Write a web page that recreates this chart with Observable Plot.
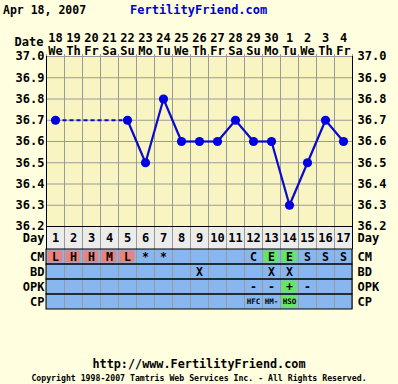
<!DOCTYPE html>
<html>
<head>
<meta charset="utf-8">
<script src="https://cdn.jsdelivr.net/npm/d3@7"></script>
<script src="https://cdn.jsdelivr.net/npm/@observablehq/plot@0.6"></script>
<style>
  html, body { margin: 0; padding: 0; background: #FFFFE0; }
  body { width: 398px; height: 384px; overflow: hidden; font-family: "DejaVu Sans Mono", monospace; font-weight: bold; }
  #title { position: relative; height: 20px; font-size: 11.5px; }
  #title .date { position: absolute; left: 3px; top: 3px; color: #000; }
  #title .site { position: absolute; left: 130px; top: 3px; color: #0000CC; font-size: 12px; }
  svg { display: block; }
  #footer { text-align: center; color: #000; }
  #footer .url { margin-top: 48px; font-size: 11.8px; line-height: 13px; }
  #footer .copy { font-size: 8.2px; line-height: 10px; margin-top: 2px; }
</style>
</head>
<body>
<div id="title"><span class="date">Apr 18, 2007</span><span class="site">FertilityFriend.com</span></div>
<div id="chart"></div>
<div id="footer"><div class="url">http://www.FertilityFriend.com</div><div class="copy">Copyright 1998-2007 Tamtris Web Services Inc. - All Rights Reserved.</div></div>
<script>
// ---- data ----
const days = [1, 2, 3, 4, 5, 6, 7, 8, 9, 10, 11, 12, 13, 14, 15, 16, 17];
const dates = ["18", "19", "20", "21", "22", "23", "24", "25", "26", "27", "28", "29", "30", "1", "2", "3", "4"];
const weekdays = ["We", "Th", "Fr", "Sa", "Su", "Mo", "Tu", "We", "Th", "Fr", "Sa", "Su", "Mo", "Tu", "We", "Th", "Fr"];
const temps = [36.7, null, null, null, 36.7, 36.5, 36.8, 36.6, 36.6, 36.6, 36.7, 36.6, 36.6, 36.3, 36.5, 36.7, 36.6];
const tempTicks = [36.2, 36.3, 36.4, 36.5, 36.6, 36.7, 36.8, 36.9, 37.0];
const rows = ["CM", "BD", "OPK", "CP"];
const cm  = ["L", "H", "H", "M", "L", "*", "*", "", "", "", "", "C", "E", "E", "S", "S", "S"];
const bd  = ["", "", "", "", "", "", "", "", "X", "", "", "", "X", "X", "", "", ""];
const opk = ["", "", "", "", "", "", "", "", "", "", "", "-", "-", "+", "-", "", ""];
const cp  = ["", "", "", "", "", "", "", "", "", "", "", "HFC", "HM-", "HSO", "", "", ""];

(function () {
// ---- derived ----
const W = 398, ML = 46, MR = 46;
const xDomain = [days[0] - 0.5, days[days.length - 1] + 0.5];
const bounds = [...days.map(d => d - 0.5), days[days.length - 1] + 0.5];
const pts = days.map((d, i) => ({day: d, t: temps[i]})).filter(p => p.t != null);
const segs = pts.slice(1).map((p, i) => ({a: pts[i], b: p, gap: p.day - pts[i].day > 1}));
const font = {fontFamily: "DejaVu Sans Mono", fontSize: "12px", fontWeight: "bold", background: "transparent", overflow: "visible"};
const BLUE = "#88B6EE", RED = "#E88383", GREEN = "#66E466", GRID = "#9a9a9a";

const tempChart = Plot.plot({
  width: W, height: 206, marginTop: 36, marginBottom: 0, marginLeft: ML, marginRight: MR,
  style: font,
  x: {domain: xDomain, axis: null},
  y: {domain: [36.2, 37.0], axis: null},
  marks: [
    Plot.frame({fill: "#F9F5C2"}),
    Plot.ruleX(bounds, {stroke: GRID, y1: 36.2, y2: 37.0}),
    Plot.ruleY(tempTicks, {stroke: GRID}),
    Plot.axisX(bounds, {anchor: "top", tickSize: 3, tickFormat: () => "", stroke: GRID, label: null}),
    Plot.axisY(tempTicks, {anchor: "left", tickSize: 0, tickPadding: 2, tickFormat: d => d.toFixed(1), fill: "#000", label: null}),
    Plot.axisY(tempTicks, {anchor: "right", tickSize: 0, tickPadding: 5, tickFormat: d => d.toFixed(1), fill: "#000", label: null}),
    Plot.text(days, {x: d => d, text: (d, i) => dates[i], frameAnchor: "top", dy: -23}),
    Plot.text(days, {x: d => d, text: (d, i) => weekdays[i], frameAnchor: "top", dy: -10}),
    Plot.text(["Date"], {frameAnchor: "top-left", dx: -3, dy: -19, textAnchor: "end"}),
    Plot.frame({stroke: "#000", anchor: "bottom"}),
    Plot.frame({stroke: "#000", anchor: "left"}),
    Plot.frame({stroke: "#000", anchor: "right"}),
    Plot.link(segs.filter(s => s.gap), {x1: s => s.a.day, y1: s => s.a.t, x2: s => s.b.day, y2: s => s.b.t, stroke: "#0A0ACC", strokeWidth: 2.2, strokeDasharray: "4,3"}),
    Plot.link(segs.filter(s => !s.gap), {x1: s => s.a.day, y1: s => s.a.t, x2: s => s.b.day, y2: s => s.b.t, stroke: "#0A0ACC", strokeWidth: 2.2}),
    Plot.dot(pts, {x: "day", y: "t", r: 4.6, fill: "#0000E0", stroke: "none"})
  ]
});

const dayRow = Plot.plot({
  width: W, height: 23, marginTop: 0, marginBottom: 0, marginLeft: ML, marginRight: MR,
  style: font,
  x: {domain: xDomain, axis: null},
  y: {domain: ["Day"], axis: null, padding: 0},
  marks: [
    Plot.frame({fill: "#ECECEC"}),
    Plot.ruleX(bounds, {stroke: GRID}),
    Plot.axisY(["Day"], {anchor: "left", tickSize: 0, tickPadding: 2, label: null}),
    Plot.axisY(["Day"], {anchor: "right", tickSize: 0, tickPadding: 5, label: null}),
    Plot.text(days, {x: d => d, y: () => "Day", text: d => String(d)}),
    Plot.frame({stroke: "#000"})
  ]
});

const cells = [];
days.forEach((d, i) => {
  cells.push({day: d, row: "CM", v: cm[i], hl: ["L", "H", "M"].includes(cm[i]) ? "red" : cm[i] === "E" ? "green" : null});
  cells.push({day: d, row: "BD", v: bd[i], hl: null});
  cells.push({day: d, row: "OPK", v: opk[i], hl: opk[i] === "+" ? "green" : null});
  cells.push({day: d, row: "CP", v: cp[i], hl: cp[i] === "HSO" ? "green" : null});
});
const table = Plot.plot({
  width: W, height: 61, marginTop: 0, marginBottom: 1, marginLeft: ML, marginRight: MR,
  style: font,
  x: {domain: xDomain, axis: null},
  y: {domain: rows, axis: null, padding: 0},
  marks: [
    Plot.barX(rows, {x1: xDomain[0], x2: xDomain[1], y: d => d, fill: BLUE, inset: 0}),
    Plot.barX(cells.filter(c => c.hl), {x1: c => c.day - 0.5, x2: c => c.day + 0.5, y: "row", fill: c => c.hl === "red" ? RED : GREEN, inset: 1.5}),
    Plot.ruleX(bounds, {stroke: GRID}),
    Plot.barX(rows, {x1: xDomain[0], x2: xDomain[1], y: d => d, fill: "none", stroke: "#000", inset: 0}),
    Plot.axisY(rows, {anchor: "left", tickSize: 0, tickPadding: 2, label: null}),
    Plot.axisY(rows, {anchor: "right", tickSize: 0, tickPadding: 5, label: null}),
    Plot.text(cells.filter(c => c.v && c.row !== "CP"), {x: "day", y: "row", text: "v", fontSize: 11.5}),
    Plot.text(cells.filter(c => c.v && c.row === "CP"), {x: "day", y: "row", text: "v", fontSize: 7.5})
  ]
});

const host = document.getElementById("chart");
host.appendChild(tempChart);
host.appendChild(dayRow);
host.appendChild(table);
})();
</script>
</body>
</html>
